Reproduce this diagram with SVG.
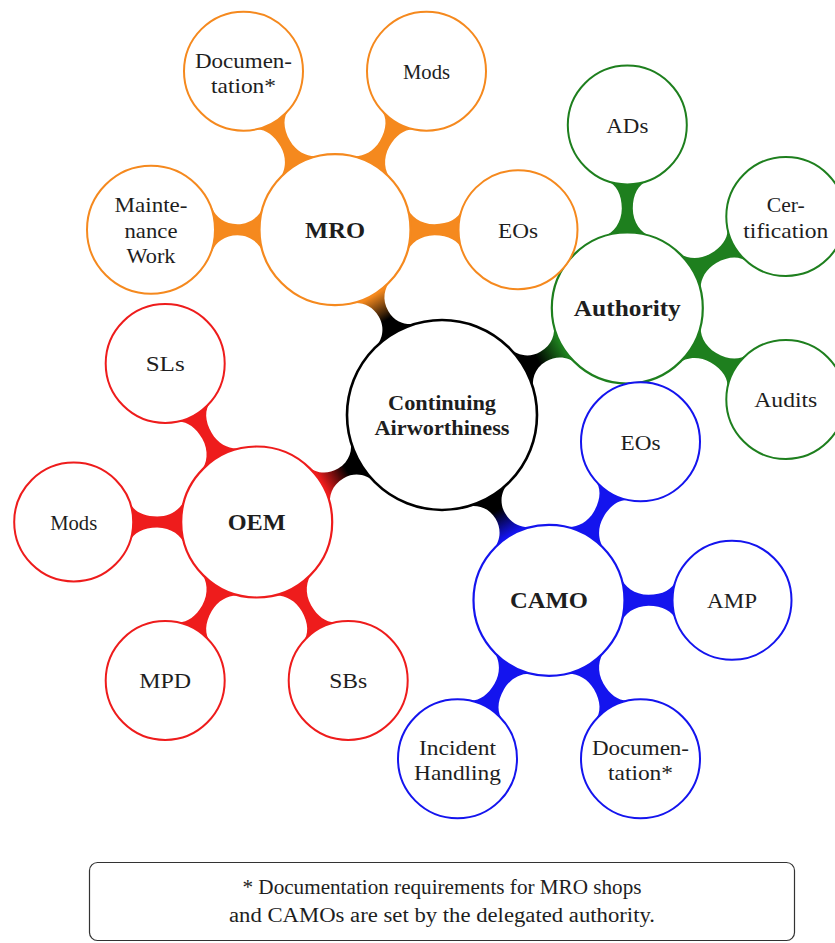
<svg xmlns="http://www.w3.org/2000/svg" width="835" height="943" viewBox="0 0 835 943" font-family="'Liberation Serif', 'Times New Roman', 'DejaVu Serif', serif">
  <style>
    .child { fill: #fff; stroke-width: 2; }
    .hub { fill: #fff; stroke-width: 2.2; }
    .root { fill: #fff; stroke: #000; stroke-width: 2.6; }
    .mro { stroke: #f5891e; }
    .auth { stroke: #1e7f1e; }
    .oem { stroke: #ee1c1c; }
    .camo { stroke: #1414ee; }
    text { fill: #1e1e1e; text-anchor: middle; }
    .lbl { font-size: 21.5px; }
    .hubl { font-size: 22.5px; font-weight: bold; }
    .rootl { font-size: 20px; font-weight: bold; }
    .note { font-size: 20px; }
    .fmro { fill: #f5891e; }
    .fauth { fill: #1e7f1e; }
    .foem { fill: #ee1c1c; }
    .fcamo { fill: #1414ee; }
  </style>
  <defs>
    <!-- bar between a hub (r 75.5) and a child (r 59.5) placed 183 apart on the x axis -->
    <path id="bar" d="M71.8,-23.3 C74.9,-13.8 85.5,-5.5 99.5,-5.5 C113.5,-5.5 123.7,-10.95 127.1,-20.35 L127.1,20.35 C123.7,10.95 113.5,5.5 99.5,5.5 C85.5,5.5 74.9,13.8 71.8,23.3 Z"/>
    <!-- same bar towards the larger three-line child (r 64) -->
    <path id="barWide" d="M71.8,-23.3 C74.9,-13.8 85,-5.5 97.5,-5.5 C110,-5.5 119.5,-12.5 122.9,-21.9 L122.9,21.9 C119.5,12.5 110,5.5 97.5,5.5 C85,5.5 74.9,13.8 71.8,23.3 Z"/>
    <!-- bar between the root (r 95) and a hub (r 75.5) placed 214 apart -->
    <path id="rootBar" d="M91.8,-24.6 C94.4,-14.9 103,-5.5 116.75,-5.5 C130.5,-5.5 139.1,-13.8 142.2,-23.3 L142.2,23.3 C139.1,13.8 130.5,5.5 116.75,5.5 C103,5.5 94.4,14.9 91.8,24.6 Z"/>
    <linearGradient id="gMro" gradientUnits="userSpaceOnUse" x1="110" y1="0" x2="138" y2="0">
      <stop offset="0" stop-color="#000"/><stop offset="1" stop-color="#f5891e"/>
    </linearGradient>
    <linearGradient id="gAuth" gradientUnits="userSpaceOnUse" x1="110" y1="0" x2="138" y2="0">
      <stop offset="0" stop-color="#000"/><stop offset="1" stop-color="#1e7f1e"/>
    </linearGradient>
    <linearGradient id="gOem" gradientUnits="userSpaceOnUse" x1="110" y1="0" x2="138" y2="0">
      <stop offset="0" stop-color="#000"/><stop offset="1" stop-color="#ee1c1c"/>
    </linearGradient>
    <linearGradient id="gCamo" gradientUnits="userSpaceOnUse" x1="110" y1="0" x2="138" y2="0">
      <stop offset="0" stop-color="#000"/><stop offset="1" stop-color="#1414ee"/>
    </linearGradient>
  </defs>

  <g id="connectors">
    <!-- root to hubs -->
    <use href="#rootBar" fill="url(#gMro)" transform="translate(442,415) rotate(-120)"/>
    <use href="#rootBar" fill="url(#gAuth)" transform="translate(442,415) rotate(-30)"/>
    <use href="#rootBar" fill="url(#gOem)" transform="translate(442,415) rotate(150)"/>
    <use href="#rootBar" fill="url(#gCamo)" transform="translate(442,415) rotate(60)"/>
    <!-- MRO -->
    <use href="#bar" class="fmro" transform="translate(335,229.7) rotate(0)"/>
    <use href="#bar" class="fmro" transform="translate(335,229.7) rotate(-60)"/>
    <use href="#bar" class="fmro" transform="translate(335,229.7) rotate(-120)"/>
    <use href="#barWide" class="fmro" transform="translate(335,229.7) rotate(180)"/>
    <!-- Authority -->
    <use href="#bar" class="fauth" transform="translate(627.3,308) rotate(-90)"/>
    <use href="#bar" class="fauth" transform="translate(627.3,308) rotate(-30)"/>
    <use href="#bar" class="fauth" transform="translate(627.3,308) rotate(30)"/>
    <!-- OEM -->
    <use href="#bar" class="foem" transform="translate(256.7,522) rotate(-120)"/>
    <use href="#bar" class="foem" transform="translate(256.7,522) rotate(180)"/>
    <use href="#bar" class="foem" transform="translate(256.7,522) rotate(120)"/>
    <use href="#bar" class="foem" transform="translate(256.7,522) rotate(60)"/>
    <!-- CAMO -->
    <use href="#bar" class="fcamo" transform="translate(549,600.3) rotate(-60)"/>
    <use href="#bar" class="fcamo" transform="translate(549,600.3) rotate(0)"/>
    <use href="#bar" class="fcamo" transform="translate(549,600.3) rotate(120)"/>
    <use href="#bar" class="fcamo" transform="translate(549,600.3) rotate(60)"/>
  </g>

  <!-- root -->
  <g id="root">
    <circle class="root" cx="442" cy="415" r="95"/>
    <text class="rootl" x="442" y="410" textLength="108" lengthAdjust="spacingAndGlyphs">Continuing</text>
    <text class="rootl" x="442" y="435" textLength="135" lengthAdjust="spacingAndGlyphs">Airworthiness</text>
  </g>

  <!-- hubs -->
  <g id="mro">
    <circle class="hub mro" cx="335" cy="229.7" r="75.5"/>
    <text class="hubl" x="335" y="238" textLength="60" lengthAdjust="spacingAndGlyphs">MRO</text>
  </g>
  <g id="authority">
    <circle class="hub auth" cx="627.3" cy="308" r="75.5"/>
    <text class="hubl" x="627.3" y="316" textLength="107" lengthAdjust="spacingAndGlyphs">Authority</text>
  </g>
  <g id="oem">
    <circle class="hub oem" cx="256.7" cy="522" r="75.5"/>
    <text class="hubl" x="256.7" y="530" textLength="58" lengthAdjust="spacingAndGlyphs">OEM</text>
  </g>
  <g id="camo">
    <circle class="hub camo" cx="549" cy="600.3" r="75.5"/>
    <text class="hubl" x="549" y="608" textLength="78" lengthAdjust="spacingAndGlyphs">CAMO</text>
  </g>

  <!-- MRO children -->
  <g id="mro-eos">
    <circle class="child mro" cx="518" cy="229.7" r="59.5"/>
    <text class="lbl" x="518" y="237.5" textLength="40" lengthAdjust="spacingAndGlyphs">EOs</text>
  </g>
  <g id="mro-mods">
    <circle class="child mro" cx="426.5" cy="71.2" r="59.5"/>
    <text class="lbl" x="426.5" y="79" textLength="47" lengthAdjust="spacingAndGlyphs">Mods</text>
  </g>
  <g id="mro-doc">
    <circle class="child mro" cx="243.5" cy="71.2" r="59.5"/>
    <text class="lbl" x="243.5" y="67.5" textLength="97" lengthAdjust="spacingAndGlyphs">Documen-</text>
    <text class="lbl" x="243.5" y="92.5" textLength="65" lengthAdjust="spacingAndGlyphs">tation*</text>
  </g>
  <g id="mro-maint">
    <circle class="child mro" cx="151" cy="229.7" r="64"/>
    <text class="lbl" x="151" y="212" textLength="73" lengthAdjust="spacingAndGlyphs">Mainte-</text>
    <text class="lbl" x="151" y="237.5" textLength="53" lengthAdjust="spacingAndGlyphs">nance</text>
    <text class="lbl" x="151" y="263" textLength="49" lengthAdjust="spacingAndGlyphs">Work</text>
  </g>

  <!-- Authority children -->
  <g id="auth-ads">
    <circle class="child auth" cx="627.3" cy="125" r="59.5"/>
    <text class="lbl" x="627.3" y="133" textLength="42" lengthAdjust="spacingAndGlyphs">ADs</text>
  </g>
  <g id="auth-cert">
    <circle class="child auth" cx="785.8" cy="216.5" r="59.5"/>
    <text class="lbl" x="785.8" y="212" textLength="38" lengthAdjust="spacingAndGlyphs">Cer-</text>
    <text class="lbl" x="785.8" y="237.5" textLength="85" lengthAdjust="spacingAndGlyphs">tification</text>
  </g>
  <g id="auth-audits">
    <circle class="child auth" cx="785.8" cy="399.5" r="59.5"/>
    <text class="lbl" x="785.8" y="407" textLength="63" lengthAdjust="spacingAndGlyphs">Audits</text>
  </g>

  <!-- OEM children -->
  <g id="oem-sls">
    <circle class="child oem" cx="165.2" cy="363.5" r="59.5"/>
    <text class="lbl" x="165.2" y="371" textLength="39" lengthAdjust="spacingAndGlyphs">SLs</text>
  </g>
  <g id="oem-mods">
    <circle class="child oem" cx="73.7" cy="522" r="59.5"/>
    <text class="lbl" x="73.7" y="530" textLength="47" lengthAdjust="spacingAndGlyphs">Mods</text>
  </g>
  <g id="oem-mpd">
    <circle class="child oem" cx="165.2" cy="680.5" r="59.5"/>
    <text class="lbl" x="165.2" y="688" textLength="52" lengthAdjust="spacingAndGlyphs">MPD</text>
  </g>
  <g id="oem-sbs">
    <circle class="child oem" cx="348.2" cy="680.5" r="59.5"/>
    <text class="lbl" x="348.2" y="688" textLength="38" lengthAdjust="spacingAndGlyphs">SBs</text>
  </g>

  <!-- CAMO children -->
  <g id="camo-eos">
    <circle class="child camo" cx="640.5" cy="441.8" r="59.5"/>
    <text class="lbl" x="640.5" y="449.5" textLength="40" lengthAdjust="spacingAndGlyphs">EOs</text>
  </g>
  <g id="camo-amp">
    <circle class="child camo" cx="732" cy="600.3" r="59.5"/>
    <text class="lbl" x="732" y="608" textLength="50" lengthAdjust="spacingAndGlyphs">AMP</text>
  </g>
  <g id="camo-incident">
    <circle class="child camo" cx="457.5" cy="758.8" r="59.5"/>
    <text class="lbl" x="457.5" y="754.5" textLength="77" lengthAdjust="spacingAndGlyphs">Incident</text>
    <text class="lbl" x="457.5" y="779.5" textLength="87" lengthAdjust="spacingAndGlyphs">Handling</text>
  </g>
  <g id="camo-doc">
    <circle class="child camo" cx="640.5" cy="758.8" r="59.5"/>
    <text class="lbl" x="640.5" y="754.5" textLength="97" lengthAdjust="spacingAndGlyphs">Documen-</text>
    <text class="lbl" x="640.5" y="779.5" textLength="65" lengthAdjust="spacingAndGlyphs">tation*</text>
  </g>

  <!-- footnote -->
  <g id="footnote">
    <rect x="89.5" y="862.5" width="705" height="78" rx="8" fill="#fff" stroke="#333" stroke-width="1.2"/>
    <text class="note" x="442" y="894" textLength="399" lengthAdjust="spacingAndGlyphs">* Documentation requirements for MRO shops</text>
    <text class="note" x="442" y="922" textLength="426" lengthAdjust="spacingAndGlyphs">and CAMOs are set by the delegated authority.</text>
  </g>
</svg>
